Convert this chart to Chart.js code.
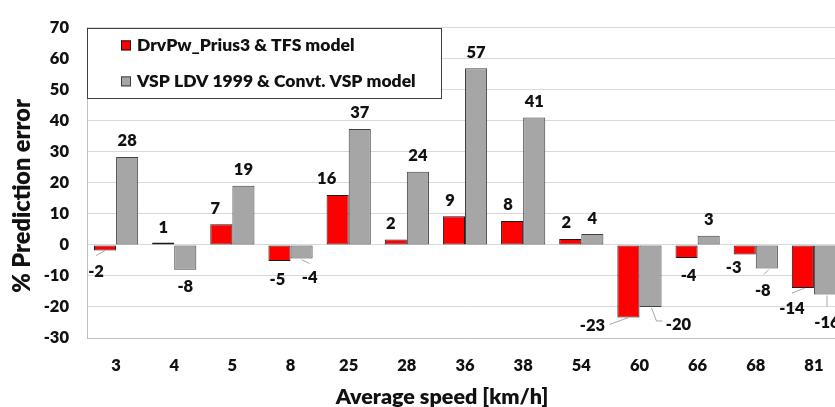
<!DOCTYPE html>
<html>
<head>
<meta charset="utf-8">
<title>Prediction error by average speed</title>
<script src="https://cdn.jsdelivr.net/npm/chart.js@4.4.1/dist/chart.umd.min.js"></script>
<style>
  html, body { margin: 0; padding: 0; background: #fff; overflow: hidden; }
  #wrap { width: 860px; height: 407px; }
</style>
</head>
<body>
<div id="wrap"><canvas id="c" width="860" height="407"></canvas></div>
<script>
// Average trip speed categories [km/h]
const speeds = ['3', '4', '5', '8', '25', '28', '36', '38', '54', '60', '66', '68', '81'];
// % prediction error per model
const drvPwError = [-1.8, 0.8, 6.7, -5.2, 16.1, 1.8, 9.3, 7.7, 1.9, -23.4, -4.2, -3.1, -13.9];
const vspError   = [28.4, -8.0, 19.1, -4.4, 37.4, 23.6, 57.0, 41.1, 3.5, -20.0, 3.0, -7.6, -16.0];
const seriesNames = ['DrvPw_Prius3 & TFS model', 'VSP LDV 1999 & Convt. VSP model'];
const yRange = { min: -30, max: 70, step: 10 };
const xTitle = 'Average speed [km/h]';
const yTitle = '% Prediction error';

const FONT = 'Lato, "Open Sans", "DejaVu Sans", sans-serif';
const WEIGHT = '800';
const INK = '#111111';

// Label placement relative to each bar's end (dx, dy in px), with optional leader line.
// Leader points: ['bar'|'label', dx, dy]
const labelPlacement = [
  [
    { d: [-9, 21], leader: [['label', 0, -16], ['bar', 0, 0]] },
    { d: [0, -15] },
    { d: [-6, -16] },
    { d: [-2, 19] },
    { d: [-11, -16] },
    { d: [-5, -16] },
    { d: [-4, -15] },
    { d: [-4, -16] },
    { d: [-4, -16] },
    { d: [-36, 8], leader: [['label', 17, -1], ['bar', 0, 0]] },
    { d: [2, 18] },
    { d: [-11, 13] },
    { d: [-11, 21], leader: [['label', 0, -16], ['bar', 2, 0]] }
  ],
  [
    { d: [0, -16] },
    { d: [0, 17] },
    { d: [0, -16] },
    { d: [8, 19], leader: [['bar', 0, 1], ['label', 0, -14]] },
    { d: [0, -16] },
    { d: [0, -16] },
    { d: [0, -16] },
    { d: [0, -16] },
    { d: [0, -15] },
    { d: [28, 18], leader: [['bar', 1, 1], ['label', -22, -4], ['label', -16, -4]] },
    { d: [0, -16] },
    { d: [-4, 22], leader: [['bar', 2, 1], ['label', 1, -16]] },
    { d: [2, 28], leader: [['bar', 2, 1], ['bar', 2, 12]] }
  ]
];

const valueLabels = {
  id: 'valueLabels',
  afterDatasetsDraw(chart) {
    const ctx = chart.ctx;
    ctx.save();
    ctx.font = `${WEIGHT} 16.5px ${FONT}`;
    ctx.textAlign = 'center';
    ctx.textBaseline = 'middle';
    chart.data.datasets.forEach((ds, di) => {
      const meta = chart.getDatasetMeta(di);
      meta.data.forEach((bar, i) => {
        const place = labelPlacement[di][i];
        const lx = bar.x + place.d[0];
        const ly = bar.y + place.d[1];
        if (place.leader) {
          ctx.strokeStyle = '#a6a6a6';
          ctx.lineWidth = 1;
          ctx.beginPath();
          place.leader.forEach((p, k) => {
            const px = (p[0] === 'bar' ? bar.x : lx) + p[1];
            const py = (p[0] === 'bar' ? bar.y : ly) + p[2];
            if (k === 0) ctx.moveTo(px, py); else ctx.lineTo(px, py);
          });
          ctx.stroke();
        }
        ctx.fillStyle = INK;
        ctx.fillText(String(Math.round(ds.data[i])), lx, ly);
      });
    });
    ctx.restore();
  }
};

// Boxed legend inside the top-left of the plot, plus axis titles
const boxLegend = {
  id: 'boxLegend',
  afterDraw(chart) {
    const ctx = chart.ctx;
    const a = chart.chartArea;
    ctx.save();
    const bx = a.left, by = a.top, bw = 354, bh = 70;
    ctx.fillStyle = '#ffffff';
    ctx.fillRect(bx, by, bw, bh);
    ctx.strokeStyle = '#404040';
    ctx.lineWidth = 1;
    ctx.strokeRect(Math.round(bx) + 0.5, Math.round(by) + 0.5, bw, bh);
    ctx.font = `${WEIGHT} 17.5px ${FONT}`;
    ctx.textBaseline = 'middle';
    ctx.textAlign = 'left';
    chart.data.datasets.forEach((ds, di) => {
      const cy = by + 17.5 + di * 36;
      ctx.fillStyle = ds.backgroundColor;
      ctx.fillRect(bx + 34, cy - 5, 10, 10);
      ctx.strokeStyle = ds.borderColor;
      ctx.strokeRect(bx + 34.5, cy - 4.5, 9, 9);
      ctx.fillStyle = INK;
      ctx.fillText(ds.label, bx + 50, cy);
    });

    ctx.fillStyle = INK;
    ctx.textAlign = 'center';
    ctx.font = `${WEIGHT} 21.5px ${FONT}`;
    ctx.fillText(xTitle, a.left + 355, 397);

    ctx.translate(22, 196);
    ctx.rotate(-Math.PI / 2);
    ctx.font = `${WEIGHT} 23.5px ${FONT}`;
    ctx.fillText(yTitle, 0, 0);
    ctx.restore();
  }
};

new Chart(document.getElementById('c'), {
  type: 'bar',
  data: {
    labels: speeds,
    datasets: [
      {
        label: seriesNames[0],
        data: drvPwError,
        backgroundColor: '#ff0000',
        borderColor: '#1a1a1a',
        borderWidth: 1,
        borderSkipped: false,
        categoryPercentage: 0.76,
        barPercentage: 1.0
      },
      {
        label: seriesNames[1],
        data: vspError,
        backgroundColor: '#a6a6a6',
        borderColor: '#404040',
        borderWidth: 1,
        borderSkipped: false,
        categoryPercentage: 0.76,
        barPercentage: 1.0
      }
    ]
  },
  options: {
    responsive: false,
    animation: false,
    layout: { padding: { top: 20, right: 17, left: 0, bottom: 0 } },
    plugins: {
      legend: { display: false },
      tooltip: { enabled: false }
    },
    scales: {
      x: {
        grid: { display: false, drawTicks: false },
        border: { display: true, color: '#bfbfbf', width: 1 },
        ticks: {
          padding: 18,
          color: INK,
          font: { family: FONT, weight: WEIGHT, size: 16.5 },
          maxRotation: 0,
          autoSkip: false
        },
        afterFit(s) { s.height = 69; }
      },
      y: {
        min: yRange.min,
        max: yRange.max,
        grid: { color: '#d9d9d9', lineWidth: 1, drawTicks: false },
        border: { display: true, color: '#bfbfbf', width: 1 },
        ticks: {
          stepSize: yRange.step,
          padding: 18,
          color: INK,
          font: { family: FONT, weight: WEIGHT, size: 16.5 }
        },
        afterFit(s) { s.width = 87; }
      }
    }
  },
  plugins: [valueLabels, boxLegend]
});
</script>
</body>
</html>
